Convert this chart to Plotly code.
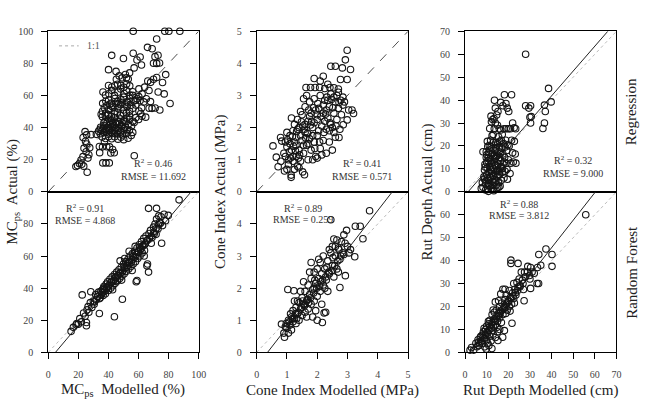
import plotly.graph_objects as go
from plotly.subplots import make_subplots

# ---------------- data ----------------
# Panel A: MCps, Regression
A_x = [24.5,25.5,23.2,24.8,25.6,23.8,25.2,27.0,23.1,21.8,20.7,19.5,23.6,25.9,27.6,22.3,18.4,26.4,28.5,
       36.3,38.4,40.6,34.0,36.1,38.9,40.8,34.2,41.6,43.9,42.8,37.4,32.0,
       33.5,34.6,35.8,36.9,37.7,38.8,39.9,40.6,41.7,42.9,43.8,44.9,46.1,47.0,48.2,49.3,50.4,52.1,54.0,56.2,
       35.9,38.1,40.3,42.2,44.1,46.4,48.3,50.2,53.1,55.2,
       34.8,36.9,39.2,41.4,43.3,45.1,47.3,49.0,51.3,53.2,55.4,57.1,
       37.8,40.2,42.1,44.3,46.2,48.1,50.3,52.2,54.1,56.3,58.2,60.1,62.3,
       35.2,36.1,37.3,38.2,40.1,42.4,44.2,46.3,48.1,50.2,52.4,54.1,56.3,58.2,60.3,62.1,
       36.2,38.3,40.2,42.1,44.3,46.1,48.4,50.1,52.3,54.2,56.1,58.3,60.2,62.4,
       36.4,38.1,40.3,42.2,44.1,46.3,48.2,50.4,52.1,54.3,56.2,
       40.1,42.3,44.2,46.1,48.3,50.2,52.1,54.2,
       45.3,47.2,49.1,51.3,53.2,
       40.1,42.2,45.1,50.0,52.0,54.1,56.5,57.1,59.0,61.1,62.0,66.0,69.1,71.0,72.1,73.0,70.0,72.1,74.0,78.1,
       76.0,77.1,73.1,81.0,74.2,71.1,69.0,67.1,68.0,63.5,68.1,70.0,72.1,66.2,64.1,67.0,65.2,60.3,64.8,61.5,
       56.5,77.5,80.2,87.5,57.2,
       34.5,36.5,38.5,40.5,42.5,44.5,46.5,48.5,50.5,52.5,37,39,41,43,45,47,49,51,
       36,38,40,42,44,46,48,50,52,54,39,41,43,45,47,49,51,53,55,57,59,61]
A_y = [37.5,35.5,33.8,31.5,29.8,27.2,25.0,23.1,21.9,19.8,17.6,16.4,16.0,12.2,27.5,17.2,15.8,21.0,35.6,
       18,18,18,28.2,28.0,28.1,28.0,24.4,24.2,24.3,26.4,31.2,35.8,
       37.8,36.2,38.3,36.9,38.0,37.2,35.9,38.4,37.0,36.3,38.1,37.3,36.0,38.2,37.1,35.4,38.0,36.4,38.3,37.0,
       34.1,33.2,34.4,33.1,34.3,32.8,34.0,32.5,33.4,35.1,
       40.2,41.3,40.1,42.0,41.2,40.0,42.2,40.8,40.3,42.1,41.0,43.2,
       44.1,45.3,44.2,46.1,44.0,45.4,44.2,46.0,45.1,44.0,46.2,45.0,47.1,
       48.3,50.2,52.4,49.1,51.2,53.3,50.1,52.2,54.3,51.0,53.1,50.2,52.0,54.1,50.3,52.2,
       55.1,56.4,57.2,55.3,58.1,56.2,57.3,59.0,56.1,58.2,60.1,57.0,59.3,61.0,
       62.2,60.3,61.1,63.2,60.1,62.0,64.1,61.2,63.1,60.2,62.3,
       66.2,65.3,66.1,67.0,66.3,65.1,67.2,66.0,
       70.1,72.2,71.0,73.1,70.2,
       76.1,85.0,75.0,83.0,71.0,74.1,86.3,77.2,82.1,84.0,79.0,90.0,89.1,84.2,95.2,85.1,80.1,80.0,80.2,73.0,
       68.1,61.0,62.2,55.0,51.0,52.2,52.0,52.1,56.2,56.0,68.2,70.1,71.2,69.0,65.2,63.1,58.0,64.1,46.5,48.8,
       100,100,100,100,22.5,
       39.0,39.5,38.9,39.2,40.5,39.1,39.7,41.5,39.3,38.8,43.0,42.8,43.5,43.1,42.9,43.6,43.2,43.7,
       46.8,47.5,48.2,47.0,48.5,49.6,47.8,48.9,49.2,47.3,53.8,54.6,52.7,55.0,54.9,55.8,54.2,55.5,53.9,56.5,58.0,56.8]

# Panel B: Cone Index, Regression
B_x = [0.54,0.65,0.71,0.79,0.83,0.80,1.14,1.14,1.58,1.52,0.92,1.00,
       1.90,2.10,2.45,2.60,2.83,2.93,2.99,3.10,2.99,2.77,3.04,3.15,3.20,2.99,2.86,2.72,2.20,2.35,
       1.63,1.78,1.93,2.08,2.25,2.42,2.55,2.70,2.85,2.90,2.78,
       0.90,1.00,1.05,0.95,1.10,1.05,1.15,1.20,1.20,1.25,1.30,1.35,1.30,1.40,1.40,1.45,1.50,1.50,1.55,1.60,
       1.60,1.65,1.70,1.70,1.75,1.80,1.80,1.85,1.90,1.90,1.95,2.00,2.00,2.05,2.10,2.10,2.15,2.20,2.20,2.25,
       2.30,2.30,2.35,2.40,2.40,2.45,2.50,2.50,2.55,2.60,2.60,2.65,2.70,2.75,2.80,2.85,1.55,1.45,1.35,1.25,
       1.15,1.65,1.75,1.85,2.00,2.15,1.95,2.30,1.10,1.00,0.95,1.25,1.40,1.55,1.70,1.85,2.05,2.25,2.45,2.65,
       2.70,2.55,1.30,1.45,1.60,1.75,1.90,2.00,2.20,2.35,2.55,2.40,1.20,1.35,
       1.02,1.12,1.22,1.32,1.42,1.52,1.62,1.72,1.82,1.92,2.02,2.12,2.22,2.32,2.42,2.52,2.62,2.72,
       1.08,1.28,1.48,1.68,1.88,2.08,2.28,2.48,1.18,1.38,1.58,1.78]
B_y = [1.43,1.08,0.78,1.69,1.58,0.95,0.45,0.52,0.53,0.62,0.65,0.70,
       3.53,3.45,3.91,3.91,3.86,4.11,4.41,3.81,3.50,3.50,2.55,2.55,2.44,2.24,2.09,1.69,3.60,3.35,
       3.25,3.25,3.25,3.25,3.22,3.25,3.24,3.10,2.95,2.80,2.85,
       1.20,1.40,1.00,1.55,1.75,0.85,1.30,0.95,1.90,1.55,1.10,0.80,1.70,2.00,1.30,0.95,1.60,2.40,1.20,1.85,
       2.65,1.45,1.00,2.20,1.65,2.45,1.30,2.00,2.90,1.55,1.10,2.25,1.75,2.60,1.35,3.00,2.05,1.60,2.45,2.85,
       1.20,1.95,2.30,2.65,1.55,3.05,2.00,1.30,2.45,2.80,1.70,2.25,2.60,1.95,2.40,2.70,2.90,2.50,2.25,2.10,
       2.30,3.00,2.80,1.00,1.05,1.15,2.55,2.55,1.50,1.85,1.10,0.70,0.75,1.45,1.50,1.75,1.90,2.20,2.10,3.00,
       3.20,2.95,1.45,1.75,2.10,2.35,2.15,2.40,2.70,2.85,1.85,1.90,1.10,1.95,
       1.62,1.05,1.42,1.88,1.15,2.05,1.68,2.55,2.20,1.35,2.75,2.35,1.85,2.95,2.15,2.62,2.05,2.78,
       1.25,1.28,2.18,1.82,2.62,1.55,2.42,2.88,1.72,1.05,1.95,2.08]

# Panel C: Rut Depth, Regression
C_x = [7.5,8.0,8.3,8.7,9.0,9.2,9.5,9.8,10.0,10.2,10.4,10.6,10.8,11.0,11.1,11.3,11.5,11.6,11.8,12.0,
       12.1,12.3,12.5,12.6,12.8,13.0,13.1,13.3,13.5,13.7,13.9,14.0,14.2,14.4,14.5,14.7,14.9,15.1,15.3,15.5,
       15.7,15.9,16.1,16.3,16.5,16.8,17.0,17.2,17.5,17.8,18.0,18.3,18.5,18.8,19.0,19.3,19.6,20.0,20.4,20.8,
       21.2,21.5,22.0,22.3,22.8,23.2,23.5,9.8,10.5,11.8,12.5,13.0,13.5,12.2,11.4,12.8,13.4,14.0,14.6,15.0,
       15.8,16.5,17.2,18.0,19.0,20.0,21.0,14.2,15.5,16.8,13.6,18.2,21.5,18.9,19.5,20.2,17.5,22.0,22.7,23.4,
       28.0,28.0,30.3,29.5,30.6,30.0,30.3,36.0,36.7,37.1,36.7,38.6,39.8,8.3,9.5,10.8,12.0,14.8,16.2,11.0,
       9.0,12.9,10.0,13.8,15.0,16.0,17.5,18.5,19.8,11.5,12.3,13.2,14.5,10.3,15.2,14.0,16.5,12.0,
       9.3,10.1,10.9,11.7,12.4,13.2,14.1,14.8,15.6,16.4,9.6,10.4,11.2,12.0,12.8,13.6,14.4,15.2,16.0,16.8,
       10.7,11.5,12.7,13.5,14.3,15.1,15.9,17.3,18.1,19.4]
C_y = [1.5,4.0,2.0,6.5,9.5,12.0,3.5,15.0,7.5,10.5,1.0,13.5,5.0,17.0,8.5,11.0,2.5,14.5,6.0,19.5,
       9.0,12.5,4.5,16.5,7.0,21.5,10.0,0.5,13.0,5.5,18.0,8.0,11.5,3.0,15.5,6.5,20.5,9.5,12.0,4.0,
       17.5,7.5,22.0,10.5,13.5,5.0,19.0,8.5,12.0,21.0,6.0,15.0,9.0,22.5,12.5,18.0,5.5,14.0,20.0,8.0,
       12.5,22.5,17.0,13.0,22.0,16.5,12.5,17.5,19.8,22.5,24.5,25.0,27.5,30.5,27.6,31.5,32.0,30.0,33.5,29.0,
       27.5,27.0,25.0,27.5,27.5,27.5,27.5,21.5,24.0,22.5,39.9,42.3,42.3,38.5,36.5,35.0,37.5,30.0,27.9,27.5,
       60.0,37.5,37.5,36.5,32.8,32.5,30.0,27.6,30.0,35.0,37.8,45.1,39.2,17.5,0.8,0.2,1.5,1.8,2.5,3.5,
       5.5,2.8,12.8,14.6,16.0,15.0,16.5,19.5,20.5,6.5,8.0,7.0,9.0,22.0,35.0,36.5,39.0,33.0,
       10.8,16.2,2.8,9.7,18.8,4.2,14.8,11.2,2.0,16.8,4.8,6.2,20.2,13.8,1.2,11.8,19.2,7.2,9.0,11.0,
       14.8,18.2,10.8,15.8,4.8,21.2,19.5,10.2,13.0,9.8]

# Panel D: MCps, Random Forest
D_x = [15.2,16.7,18.5,19.0,20.0,21.0,22.0,22.6,23.5,24.5,25.4,25.4,25.8,26.5,27.0,28.3,28.0,29.0,30.0,30.5,
       31.5,32.0,33.0,33.5,34.0,34.5,35.0,35.5,36.0,36.5,37.0,37.5,38.0,38.5,39.0,39.5,40.0,40.5,41.0,41.5,
       42.0,42.5,43.0,43.5,44.0,44.0,44.5,45.0,45.5,46.0,46.5,47.0,47.5,47.8,48.0,48.5,49.0,49.3,49.5,50.0,
       50.5,51.0,51.5,52.0,52.5,53.0,53.5,54.0,54.5,55.0,55.5,56.0,56.5,57.0,57.5,58.0,58.5,58.5,59.0,59.0,
       59.5,60.0,60.5,61.0,61.5,62.0,62.5,63.0,63.5,64.0,64.5,65.6,66.0,66.7,65.0,66.0,66.7,67.0,68.0,69.0,
       70.0,70.5,71.0,71.7,72.0,72.0,73.0,73.5,74.0,75.0,75.4,76.0,77.0,78.0,79.8,83.0,87.0,88.0,91.0,36.8,
       44.8,52.8,60.8,55.8,48.8,63.8,42.8,68.5,57.8,53.8,50.8,
       30.8,32.6,34.2,35.8,37.2,38.8,40.2,41.8,43.2,44.8,46.2,47.6,49.2,50.6,52.2,53.6,55.2,56.6,58.2,59.6,
       61.2,62.6,64.2,65.6,67.2,68.6,70.2,71.6,73.2,74.6]
D_y = [13.1,15.6,17.2,18.0,17.5,21.0,19.0,35.8,24.5,22.5,18.6,16.6,26.5,28.5,25.0,37.8,31.0,28.0,32.0,30.0,
       36.0,33.0,35.0,37.5,24.2,34.0,38.0,36.0,39.0,35.5,41.0,38.0,36.5,42.5,40.0,44.0,38.5,42.0,45.5,40.0,
       43.5,47.0,41.5,45.0,22.2,48.5,43.0,46.5,50.0,44.5,48.0,51.5,46.0,57.0,49.5,53.0,47.5,33.1,51.0,55.0,
       49.0,52.5,56.5,50.5,54.0,58.0,52.0,56.0,60.0,53.5,57.5,61.5,55.0,59.0,63.0,56.5,44.0,61.0,44.8,65.0,
       58.5,62.5,67.0,60.0,64.5,69.0,62.0,66.5,71.0,63.5,68.0,53.9,55.0,50.0,72.5,70.0,89.7,74.0,76.0,71.5,
       78.0,74.0,80.0,73.5,89.7,83.0,77.0,85.0,81.0,84.5,68.0,79.0,86.0,82.0,85.3,100.5,95.0,100.5,100.5,40.0,
       44.5,55.5,65.5,51.0,45.0,60.0,39.0,68.0,66.0,63.0,58.5,
       31.5,34.8,33.5,37.2,39.0,40.5,41.2,43.8,44.2,47.0,47.8,49.2,50.0,53.5,53.0,56.5,56.0,59.8,59.5,62.5,
       64.0,66.0,67.2,69.5,71.0,72.5,75.0,77.0,79.5,80.5]

# Panel E: Cone Index, Random Forest
E_x = [0.82,0.92,0.90,0.95,1.00,1.03,1.23,1.05,1.10,1.15,1.20,1.20,1.25,1.30,1.30,1.35,1.40,1.40,1.45,1.50,
       1.50,1.55,1.60,1.60,1.65,1.70,1.70,1.75,1.80,1.80,1.85,1.90,1.90,1.95,2.00,2.00,2.05,2.10,2.10,2.15,
       2.17,2.23,2.28,2.20,2.20,2.25,2.30,2.35,2.40,2.45,2.45,2.50,2.55,2.55,2.60,2.65,2.65,2.70,2.75,2.75,
       2.80,2.85,2.88,2.93,2.97,3.00,3.05,3.10,3.24,3.26,3.42,3.51,3.73,1.55,1.45,1.75,2.05,1.95,1.65,1.35,
       1.85,2.00,2.40,2.60,1.25,1.15,1.05,1.80,2.15,2.35,2.50,2.70,1.90,1.60,2.25,
       0.98,1.08,1.18,1.28,1.38,1.48,1.58,1.68,1.78,1.88,1.98,2.08,2.18,2.28,2.38,2.48,2.58,2.68,2.78,2.88,
       1.12,1.32,1.52,1.72,1.92,2.12,2.32,2.52,2.72,2.92]
E_y = [0.88,0.47,0.60,0.80,0.75,1.96,1.92,1.00,0.85,1.10,0.95,1.30,1.05,1.40,0.90,1.20,1.55,1.00,1.35,1.70,
       1.15,1.50,1.25,1.90,1.60,2.10,1.35,1.80,1.50,2.30,1.95,1.60,2.50,2.15,1.75,2.60,2.30,1.90,2.80,2.45,
       0.93,1.23,1.25,2.10,3.00,2.60,2.25,2.85,2.45,4.13,3.10,2.70,3.53,2.35,3.00,3.50,2.60,3.25,2.02,2.90,
       3.45,3.10,3.66,2.39,3.80,3.30,3.10,3.20,2.98,3.93,3.93,3.54,4.41,2.20,1.90,2.50,2.90,1.30,1.10,1.60,
       1.10,1.00,3.20,3.30,1.60,0.70,0.60,2.80,1.50,1.90,3.30,2.50,2.00,1.50,2.00,
       0.90,0.95,1.05,1.20,1.25,1.40,1.45,1.65,1.70,1.85,2.00,2.05,2.25,2.35,2.50,2.55,2.70,2.85,3.00,3.05,
       1.20,1.05,1.60,1.55,2.25,2.20,2.65,2.95,3.20,3.40]

# Panel F: Rut Depth, Random Forest
F_x = [2.3,3.0,4.0,5.0,5.5,6.0,6.5,6.8,7.0,7.5,8.0,8.0,8.5,9.0,9.1,9.5,9.5,10.0,10.0,10.5,
       10.5,11.0,11.0,11.5,11.5,12.0,12.0,12.4,12.5,12.5,13.0,13.0,13.5,13.5,14.0,14.0,14.5,14.5,15.0,15.2,
       15.5,15.5,16.0,16.0,16.5,16.5,17.0,17.4,17.5,17.5,18.0,18.2,18.5,18.5,19.0,19.5,20.0,20.5,21.0,21.2,
       21.2,21.5,21.7,22.0,22.5,23.0,23.5,24.0,24.5,24.5,25.0,25.5,26.0,26.5,27.0,27.3,27.5,28.0,28.8,29.0,
       30.0,30.3,30.3,31.0,32.0,33.3,33.5,34.0,34.1,35.0,37.4,40.2,40.2,55.8,19.0,20.5,14.0,13.0,11.0,9.8,
       22.5,16.0,15.0,
       6.2,7.3,8.4,9.3,10.2,11.3,12.2,13.3,14.2,15.3,16.2,17.3,18.2,19.3,20.2,21.3,22.2,23.3,24.2,25.3,
       8.8,10.8,12.8,14.8,16.8,18.8,20.8,22.8,26.8,29.8]
F_y = [1.0,2.1,1.0,4.0,2.5,5.5,3.0,3.8,6.5,5.0,7.5,4.0,9.0,6.0,2.4,10.0,7.5,5.5,11.5,8.5,
       4.0,12.5,9.5,7.0,14.0,10.5,5.0,1.7,13.0,16.5,11.5,8.0,14.5,17.5,12.0,6.5,15.5,18.5,13.5,5.2,
       17.0,22.5,15.0,20.0,18.0,25.5,21.5,6.6,16.5,27.5,20.0,9.5,23.0,27.5,21.0,18.5,22.5,20.0,24.0,40.2,
       38.8,21.0,12.7,26.0,23.5,27.5,25.0,30.5,38.8,28.5,32.0,29.0,35.0,31.5,27.4,22.5,35.0,33.0,35.0,37.5,
       32.0,27.9,37.0,35.0,34.5,30.0,37.0,30.0,42.7,38.0,45.1,42.7,37.5,60.0,25.0,27.0,22.0,18.5,3.0,1.5,
       30.0,10.0,9.0,
       4.5,7.0,6.5,8.0,9.0,11.0,12.0,13.5,14.0,16.0,17.0,18.5,19.5,21.5,22.0,23.5,24.5,26.0,27.0,28.5,
       10.5,13.5,9.5,11.0,13.0,17.0,18.0,21.5,30.0,33.5]

# reference / fitted lines: [x0, x1], [y0, y1]
A_fit = ([0, 100], [0, 100])      # dashed 1:1
B_fit = ([0, 5], [0, 5])          # dashed 1:1
C_fit = ([1.4, 66], [0, 70])
D_fit = ([4.8, 95], [0, 100])
E_fit = ([0.36, 4.48], [0, 5])
F_fit = ([2.0, 60.3], [0, 70])

ranges = [100, 5, 70]
top_ticks = [[0, 20, 40, 60, 80, 100], [0, 1, 2, 3, 4, 5], [0, 10, 20, 30, 40, 50, 60, 70]]
bot_ticks = [[0, 20, 40, 60, 80], [0, 1, 2, 3, 4], [0, 10, 20, 30, 40, 50, 60]]
x_ticks = [[0, 20, 40, 60, 80, 100], [0, 1, 2, 3, 4, 5], [0, 10, 20, 30, 40, 50, 60, 70]]

stats_top = [("0.46", "11.692"), ("0.41", "0.571"), ("0.32", "9.000")]
stats_bot = [("0.91", "4.868"), ("0.89", "0.259"), ("0.88", "3.812")]

x_titles = ["MC<sub>ps</sub>  Modelled (%)", "Cone Index Modelled (MPa)", "Rut Depth Modelled (cm)"]
y_titles = ["MC<sub>ps</sub>  Actual (%)", "Cone Index Actual (MPa)", "Rut Depth Actual (cm)"]
row_titles = ["Regression", "Random Forest"]

# ---------------- figure ----------------
W, H = 651, 408
FONT = "Liberation Serif, Times New Roman, serif"

def px(x):
    return x / W

def py(y):
    return 1 - y / H

fig = make_subplots(rows=2, cols=3)

col_px = [(46, 199), (258, 412), (470, 624)]
row_px = [(27, 192), (192, 357)]

mk = dict(symbol="circle-open", size=6.5, color="#151515", line=dict(width=1.1, color="#151515"))
data_top = [(A_x, A_y), (B_x, B_y), (C_x, C_y)]
data_bot = [(D_x, D_y), (E_x, E_y), (F_x, F_y)]
fits_top = [A_fit, B_fit, C_fit]
fits_bot = [D_fit, E_fit, F_fit]

for c in range(3):
    rng = ranges[c]
    if c < 2:
        fig.add_trace(go.Scatter(x=fits_top[c][0], y=fits_top[c][1], mode="lines",
                                 line=dict(color="#222", width=0.8, dash="dash"),
                                 showlegend=False, hoverinfo="skip"), row=1, col=c + 1)
    else:
        fig.add_trace(go.Scatter(x=[0, rng], y=[0, rng], mode="lines",
                                 line=dict(color="#bbbbbb", width=1, dash="dot"),
                                 showlegend=False, hoverinfo="skip"), row=1, col=c + 1)
        fig.add_trace(go.Scatter(x=fits_top[c][0], y=fits_top[c][1], mode="lines",
                                 line=dict(color="#222", width=1),
                                 showlegend=False, hoverinfo="skip"), row=1, col=c + 1)
    fig.add_trace(go.Scatter(x=data_top[c][0], y=data_top[c][1], mode="markers", marker=mk,
                             cliponaxis=False, showlegend=False), row=1, col=c + 1)
    fig.add_trace(go.Scatter(x=[0, rng], y=[0, rng], mode="lines",
                             line=dict(color="#bbbbbb", width=1, dash="dot"),
                             showlegend=False, hoverinfo="skip"), row=2, col=c + 1)
    fig.add_trace(go.Scatter(x=fits_bot[c][0], y=fits_bot[c][1], mode="lines",
                             line=dict(color="#222", width=1),
                             showlegend=False, hoverinfo="skip"), row=2, col=c + 1)
    fig.add_trace(go.Scatter(x=data_bot[c][0], y=data_bot[c][1], mode="markers", marker=mk,
                             cliponaxis=False, showlegend=False), row=2, col=c + 1)

axis_common = dict(showline=True, mirror=True, linecolor="black", linewidth=1,
                   showgrid=False, zeroline=False, tickcolor="black", ticklen=6, tickwidth=1,
                   tickfont=dict(family=FONT, size=10, color="#444"))

for r in range(2):
    for c in range(3):
        idx = r * 3 + c + 1
        xa = "xaxis" if idx == 1 else f"xaxis{idx}"
        ya = "yaxis" if idx == 1 else f"yaxis{idx}"
        x0, x1 = col_px[c]
        y0, y1 = row_px[r]
        xd = dict(axis_common, domain=[px(x0), px(x1)], range=[0, ranges[c]])
        yd = dict(axis_common, domain=[py(y1), py(y0)], range=[0, ranges[c]],
                  ticks="outside", tickmode="array", ticklabelstandoff=6,
                  tickvals=top_ticks[c] if r == 0 else bot_ticks[c])
        if r == 0:
            xd.update(ticks="", showticklabels=False)
        else:
            xd.update(ticks="outside", tickmode="array", tickvals=x_ticks[c], ticklabelstandoff=7)
        fig.layout[xa].update(xd)
        fig.layout[ya].update(yd)

ann = []
top_pos = [(153, 162, 176), (365, 162, 176), (580, 159, 173)]
bot_pos = [(83, 209, 221), (305, 209, 220), (525, 204, 216)]
for c in range(3):
    x, y1, y2 = top_pos[c]
    ann.append(dict(x=px(x), y=py(y1), text=f"R<sup>2</sup> = {stats_top[c][0]}"))
    ann.append(dict(x=px(x), y=py(y2), text=f"RMSE = {stats_top[c][1]}"))
    x, y1, y2 = bot_pos[c]
    ann.append(dict(x=px(x), y=py(y1), text=f"R<sup>2</sup> = {stats_bot[c][0]}"))
    ann.append(dict(x=px(x), y=py(y2), text=f"RMSE = {stats_bot[c][1]}"))
for a in ann:
    a.update(xref="paper", yref="paper", showarrow=False, xanchor="center", yanchor="middle",
             font=dict(family=FONT, size=10, color="#333"))

titles = []
xt_centers = [122, 335, 547]
yt_x = [10, 222, 432]
for c in range(3):
    titles.append(dict(x=px(xt_centers[c]), y=py(396), text=x_titles[c]))
    titles.append(dict(x=px(yt_x[c]), y=py(192), text=y_titles[c], textangle=-90))
titles.append(dict(x=px(639), y=py(110), text=row_titles[0], textangle=-90))
titles.append(dict(x=px(639), y=py(275), text=row_titles[1], textangle=-90))
for t in titles:
    t.update(xref="paper", yref="paper", showarrow=False, xanchor="center", yanchor="middle",
             font=dict(family=FONT, size=15, color="#222"))

legend_ann = dict(x=px(83), y=py(42), xref="paper", yref="paper", showarrow=False,
                  xanchor="left", yanchor="middle", text="1:1",
                  font=dict(family=FONT, size=10, color="#555"))

fig.update_layout(
    width=W, height=H, margin=dict(l=0, r=0, t=0, b=0),
    paper_bgcolor="white", plot_bgcolor="white",
    annotations=ann + titles + [legend_ann],
    shapes=[dict(type="line", xref="paper", yref="paper", x0=px(57), x1=px(77), y0=py(42), y1=py(42),
                 line=dict(color="#aaaaaa", width=1, dash="dot"))],
    font=dict(family=FONT),
)

fig.write_html("out.html")
